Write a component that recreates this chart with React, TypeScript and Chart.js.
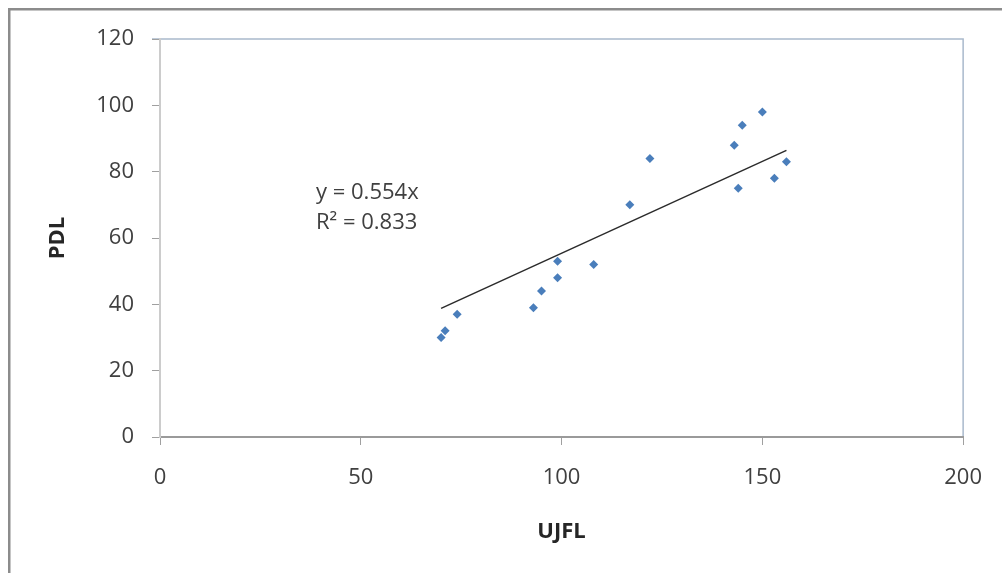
import React, { useEffect, useRef } from "react";
import { Chart, registerables } from "chart.js";

Chart.register(...registerables);

// UJFL (x) values
const ujfl = [150, 145, 143, 122, 156, 153, 144, 117, 99, 108, 99, 95, 93, 74, 71, 70];
// PDL (y) values
const pdl = [98, 94, 88, 84, 83, 78, 75, 70, 53, 52, 48, 44, 39, 37, 32, 30];

// Linear trendline endpoints (y = 0.554x)
const trendX = [70, 156];
const trendY = [38.8, 86.4];

const xTicks = [0, 50, 100, 150, 200];
const yTicks = [0, 20, 40, 60, 80, 100, 120];

const equationLines = ["y = 0.554x", "R² = 0.833"];
const xTitle = "UJFL";
const yTitle = "PDL";

const FONT = "'Open Sans', 'DejaVu Sans', sans-serif";

export default function App() {
  const ref = useRef<HTMLCanvasElement | null>(null);

  useEffect(() => {
    if (!ref.current) return;
    const deco = {
      id: "deco",
      beforeDraw(chart: any) {
        const ctx = chart.ctx;
        const a = chart.chartArea;
        ctx.save();
        ctx.fillStyle = "#ffffff";
        ctx.fillRect(0, 0, chart.width, chart.height);
        ctx.strokeStyle = "#8c8c8c";
        ctx.lineWidth = 2.5;
        ctx.beginPath();
        ctx.moveTo(9.25, chart.height);
        ctx.lineTo(9.25, 9.25);
        ctx.lineTo(chart.width, 9.25);
        ctx.stroke();
        ctx.strokeStyle = "#a9b9cc";
        ctx.lineWidth = 1.5;
        ctx.beginPath();
        ctx.moveTo(a.left - 8, a.top);
        ctx.lineTo(a.right, a.top);
        ctx.lineTo(a.right, a.bottom);
        ctx.stroke();
        ctx.restore();
      },
      afterDraw(chart: any) {
        const ctx = chart.ctx;
        ctx.save();
        ctx.fillStyle = "#404040";
        ctx.font = `22px ${FONT}`;
        ctx.textAlign = "left";
        ctx.textBaseline = "middle";
        equationLines.forEach((t, i) => ctx.fillText(t, 316, 193 + i * 30));
        ctx.restore();
      },
    };

    const chart = new Chart(ref.current, {
      type: "scatter",
      data: {
        datasets: [
          {
            label: "PDL",
            data: ujfl.map((x, i) => ({ x, y: pdl[i] })),
            pointStyle: "rectRot",
            pointRadius: 4.5,
            backgroundColor: "#4a7ebb",
            borderColor: "#4a7ebb",
            borderWidth: 0,
            showLine: false,
            order: 1,
          },
          {
            label: "Linear",
            data: trendX.map((x, i) => ({ x, y: trendY[i] })),
            showLine: true,
            pointRadius: 0,
            borderColor: "#2b2b2b",
            borderWidth: 1.5,
            fill: false,
            order: 2,
          } as any,
        ],
      },
      options: {
        animation: false,
        responsive: false,
        events: [],
        layout: { padding: { top: 39, right: 37, left: 0, bottom: 0 } },
        plugins: { legend: { display: false }, tooltip: { enabled: false } },
        scales: {
          x: {
            type: "linear",
            position: "bottom",
            min: 0,
            max: 200,
            afterFit: (s: any) => {
              s.height = 136;
            },
            afterBuildTicks: (s: any) => {
              s.ticks = xTicks.map((v) => ({ value: v }));
            },
            ticks: {
              font: { family: FONT, size: 22 },
              color: "#404040",
              padding: 20,
              maxRotation: 0,
              autoSkip: false,
            },
            grid: { drawOnChartArea: false, drawTicks: true, tickLength: 8, color: "#a0a0a0" },
            border: { display: true, color: "#9a9a9a", width: 2 },
            title: {
              display: true,
              text: xTitle,
              font: { family: FONT, size: 22, weight: "bold" },
              color: "#262626",
              padding: { top: 0, bottom: 28 },
            },
          },
          y: {
            type: "linear",
            position: "left",
            min: 0,
            max: 120,
            afterFit: (s: any) => {
              s.width = 160;
            },
            afterBuildTicks: (s: any) => {
              s.ticks = yTicks.map((v) => ({ value: v }));
            },
            ticks: {
              font: { family: FONT, size: 22 },
              color: "#404040",
              padding: 18,
              autoSkip: false,
            },
            grid: { drawOnChartArea: false, drawTicks: true, tickLength: 8, color: "#a0a0a0" },
            border: { display: true, color: "#cccccc", width: 2 },
            title: {
              display: true,
              text: yTitle,
              font: { family: FONT, size: 22, weight: "bold" },
              color: "#262626",
              padding: { top: 45, bottom: 0 },
            },
          },
        },
      },
      plugins: [deco],
    });
    return () => chart.destroy();
  }, []);

  return (
    <div style={{ position: "fixed", left: 0, top: 0, width: 1002, height: 573 }}>
      <canvas ref={ref} width={1002} height={573} style={{ display: "block" }} />
    </div>
  );
}
